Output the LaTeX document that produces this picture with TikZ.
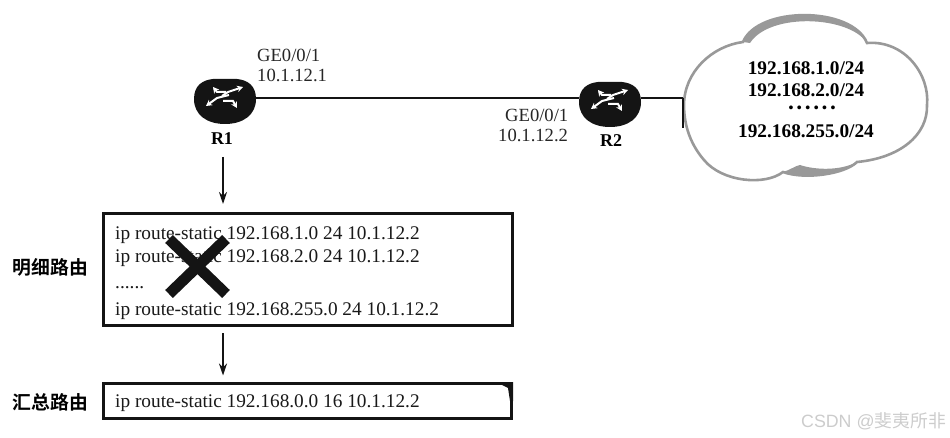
\documentclass[tikz,border=0pt]{standalone}
\usepackage{fontspec}
\setmainfont{Liberation Serif}
\newfontfamily\cjkb{Noto Sans CJK SC}[BoldFont={* Bold}]
\newfontfamily\sansw{Liberation Sans}
\usetikzlibrary{arrows.meta}
\definecolor{ink}{gray}{0.08}
\definecolor{cloudline}{gray}{0.6}
\tikzset{
  routerbody/.style={fill=ink,draw=none,inner sep=0pt},
  linktext/.style={font=\fontsize{18.6}{20}\selectfont,anchor=base west,inner sep=0pt,text=black!85},
  boldlabel/.style={font=\fontsize{18}{20}\selectfont\bfseries,anchor=base,inner sep=0pt},
  cidr/.style={font=\fontsize{19.3}{20}\selectfont\bfseries,anchor=base,inner sep=0pt},
  routetext/.style={font=\fontsize{19.3}{20}\selectfont,anchor=base west,inner sep=0pt,text=black!90},
  cnlabel/.style={font=\fontsize{18.8}{20}\selectfont\cjkb\bfseries,inner sep=0pt},
  routebox/.style={draw=ink,line width=3pt,fill=white,inner sep=0pt},
  flow/.style={draw=ink,line width=1.3pt,-{Stealth[length=12pt,width=8pt]}},
  link/.style={draw=ink,line width=2.6pt},
  glyph/.style={draw=white,line width=2pt,-{Stealth[length=6pt,width=6.5pt]}},
}
\begin{document}
\begin{tikzpicture}[x=1pt,y=-1pt]
\useasboundingbox (0,0) rectangle (950,438);
% cloud
\path[fill=white,draw=cloudline,line width=2.6pt] (684,105)
  .. controls (684,72) and (712,46) .. (743,42)
  .. controls (758,6) and (852,6) .. (867,43)
  .. controls (905,40) and (930,75) .. (927,105)
  .. controls (928,135) and (900,158) .. (857,162)
  .. controls (845,174) and (805,180) .. (783,172)
  .. controls (765,186) and (722,182) .. (704,160)
  .. controls (692,146) and (684,128) .. (684,105) -- cycle;
\fill[cloudline] (743,42) .. controls (758,6) and (852,6) .. (867,43)
  .. controls (850,16) and (770,12) .. (750,43) -- cycle;
\fill[cloudline] (783,172) .. controls (805,180) and (845,174) .. (857,162)
  .. controls (840,171) and (815,170) .. (800,165)
  .. controls (795,166) and (790,170) .. (783,172) -- cycle;
\node[cidr] (c1) at (806,75) {192.168.1.0/24};
\node[cidr] (c2) at (806,97) {192.168.2.0/24};
\node[font=\fontsize{14}{16}\selectfont\bfseries\addfontfeature{LetterSpace=25},inner sep=0pt] (c3) at (812,109) {••••••};
\node[cidr] (c4) at (806,138) {192.168.255.0/24};
% routers
\foreach \nm/\cx/\cy in {r1/225/101,r2/610/104}{
  \begin{scope}[shift={(\cx,\cy)}]
    \path[routerbody] (-31,-2)
      .. controls (-31,-16) and (-22,-21) .. (-12,-22)
      -- (12,-22)
      .. controls (22,-21) and (31,-16) .. (31,-2)
      .. controls (31,14) and (18,23) .. (0,23)
      .. controls (-18,23) and (-31,14) .. (-31,-2) -- cycle;
    \draw[glyph] (-3,-5) -- (3,-9) -- (18,-14);
    \draw[glyph] (4,-6) -- (-8,-3) -- (-19,5);
    \draw[glyph] (1,-9) -- (-8,-9) -- (-12,-14);
    \draw[glyph] (-2,0) -- (8,0) -- (12,7);
  \end{scope}
  \coordinate (\nm) at (\cx,\cy);
  \coordinate (\nm w) at (\cx-31,98);
  \coordinate (\nm e) at (\cx+31,98);
}
\coordinate (cloudedge) at (683,98);
\coordinate (cloudlow) at (683,128);
\draw[link] (r1e) -- (r2w);
\draw[link] (r2e) -- (cloudedge);
\draw[draw=ink,line width=2pt] (cloudedge) -- (cloudlow);
\node[boldlabel] (l1) at (222,145) {R1};
\node[boldlabel] (l2) at (611,147) {R2};
\node[linktext] (g1) at (257,62) {GE0/0/1};
\node[linktext] (i1) at (257,82) {10.1.12.1};
\node[linktext] (g2) at (505,122) {GE0/0/1};
\node[linktext] (i2) at (498,142) {10.1.12.2};
% boxes
\node[routebox,minimum width=409pt,minimum height=112pt] (b1) at (308,269.5) {};
\node[routebox,minimum width=408pt,minimum height=35pt] (b2) at (307.5,400.5) {};
\fill[ink] (496,382) -- (513,382) -- (513,401) -- (510,401) -- (508,388) -- cycle;
\node[routetext] (t1) at (115,240) {ip route-static 192.168.1.0 24 10.1.12.2};
\node[routetext] (t2) at (115,263) {ip route-static 192.168.2.0 24 10.1.12.2};
\node[routetext] (t3) at (115,289) {......};
\node[routetext] (t4) at (115,315) {ip route-static 192.168.255.0 24 10.1.12.2};
\node[routetext] (t5) at (115,407) {ip route-static 192.168.0.0 16 10.1.12.2};
% cross
\coordinate (xa) at (169,239);
\coordinate (xb) at (226,294);
\coordinate (xc) at (226,239);
\coordinate (xd) at (169,294);
\draw[draw=ink,line width=11pt] (xa) -- (xb) (xc) -- (xd);
% labels and arrows
\node[cnlabel] (n1) at (50.5,267) {明细路由};
\node[cnlabel] (n2) at (50.5,402) {汇总路由};
\coordinate (a1) at (223,157);
\draw[flow,shorten >=8pt] (a1) -- (b1.north -| a1);
\coordinate (a2) at (223,333);
\draw[flow,shorten >=6pt] (a2) -- (b2.north -| a2);
\node[font=\fontsize{17.8}{20}\sansw,text=black!20,anchor=east,inner sep=0pt] (wm) at (946,421) {CSDN @\cjkb 斐夷所非};
\end{tikzpicture}
\end{document}
